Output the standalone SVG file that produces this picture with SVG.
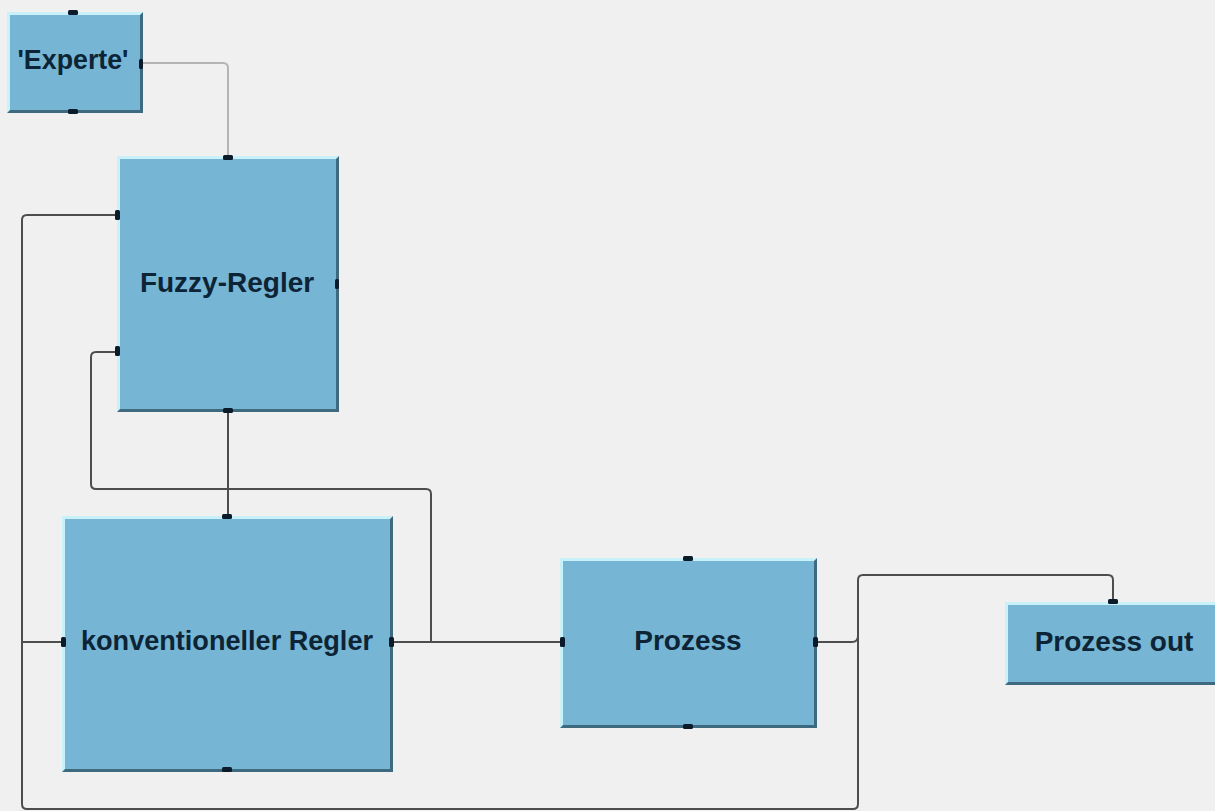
<svg xmlns="http://www.w3.org/2000/svg" width="1215" height="811" viewBox="0 0 1215 811">
  <style>
    .hi { fill: #c8f1fa; }
    .sh { fill: #3d6a7f; }
    .body { fill: #76b5d3; }
    .port { fill: #0c1b29; }
    .lbl { font-family: "Liberation Sans", Arial, sans-serif; font-weight: bold; font-size: 28px; fill: #0c2436; text-anchor: middle; }
    .wire { fill: none; stroke: #4d4d4d; stroke-width: 2; }
    .wire-light { fill: none; stroke: #b4b4b4; stroke-width: 2; }
  </style>
  <rect width="1215" height="811" fill="#f0f0f0"/>

  <!-- connectors -->
  <g id="connectors">
    <path class="wire-light" d="M143,63 H223 Q228,63 228,68 V156"/>
    <path class="wire" d="M228,412 V516"/>
    <path class="wire" d="M393,642 H560"/>
    <path class="wire" d="M431,642 V494 Q431,489 426,489 H96 Q91,489 91,484 V357 Q91,352 96,352 H117"/>
    <path class="wire" d="M1113,602 V580 Q1113,575 1108,575 H863 Q858,575 858,580 V804 Q858,809 853,809 H27 Q22,809 22,804 V220 Q22,215 27,215 H117"/>
    <path class="wire" d="M817,642 H852 Q858,642 858,636"/>
    <path class="wire" d="M22,642 H62"/>
  </g>

  <!-- 'Experte' -->
  <g id="experte">
    <rect class="hi" x="7" y="12" width="136" height="101"/>
    <polygon class="sh" points="7,113 143,113 143,12 140,15 140,110 10,110"/>
    <rect class="body" x="10" y="15" width="130" height="95"/>
    <rect class="port" x="68" y="10" width="10" height="5" rx="1.5"/>
    <rect class="port" x="68" y="109" width="10" height="5" rx="1.5"/>
    <rect class="port" x="139" y="59" width="4" height="10" rx="1.5"/>
    <text class="lbl" x="73" y="69" font-size="27" textLength="111" lengthAdjust="spacingAndGlyphs">'Experte'</text>
  </g>

  <!-- Fuzzy-Regler -->
  <g id="fuzzy-regler">
    <rect class="hi" x="117" y="156" width="222" height="256"/>
    <polygon class="sh" points="117,412 339,412 339,156 336,159 336,409 120,409"/>
    <rect class="body" x="120" y="159" width="216" height="250"/>
    <rect class="port" x="223" y="155" width="10" height="5" rx="1.5"/>
    <rect class="port" x="223" y="408" width="10" height="5" rx="1.5"/>
    <rect class="port" x="115" y="210" width="5" height="10" rx="1.5"/>
    <rect class="port" x="115" y="346" width="5" height="10" rx="1.5"/>
    <rect class="port" x="335" y="279" width="4" height="10" rx="1.5"/>
    <text class="lbl" x="227" y="292">Fuzzy-Regler</text>
  </g>

  <!-- konventioneller Regler -->
  <g id="konventioneller-regler">
    <rect class="hi" x="62" y="516" width="331" height="256"/>
    <polygon class="sh" points="62,772 393,772 393,516 390,519 390,769 65,769"/>
    <rect class="body" x="65" y="519" width="325" height="250"/>
    <rect class="port" x="222" y="514" width="10" height="5" rx="1.5"/>
    <rect class="port" x="222" y="767" width="10" height="5" rx="1.5"/>
    <rect class="port" x="61" y="637" width="5" height="10" rx="1.5"/>
    <rect class="port" x="389" y="637" width="5" height="10" rx="1.5"/>
    <text class="lbl" x="227" y="650" font-size="27" textLength="292" lengthAdjust="spacingAndGlyphs">konventioneller Regler</text>
  </g>

  <!-- Prozess -->
  <g id="prozess">
    <rect class="hi" x="560" y="558" width="257" height="170"/>
    <polygon class="sh" points="560,728 817,728 817,558 814,561 814,725 563,725"/>
    <rect class="body" x="563" y="561" width="251" height="164"/>
    <rect class="port" x="683" y="556" width="10" height="5" rx="1.5"/>
    <rect class="port" x="683" y="724" width="10" height="5" rx="1.5"/>
    <rect class="port" x="560" y="637" width="5" height="10" rx="1.5"/>
    <rect class="port" x="813" y="637" width="5" height="10" rx="1.5"/>
    <text class="lbl" x="688" y="650">Prozess</text>
  </g>

  <!-- Prozess out -->
  <g id="prozess-out">
    <rect class="hi" x="1005" y="602" width="215" height="83"/>
    <polygon class="sh" points="1005,685 1220,685 1220,682 1008,682"/>
    <rect class="body" x="1008" y="605" width="212" height="77"/>
    <rect class="port" x="1108" y="599" width="10" height="5" rx="1.5"/>
    <text class="lbl" x="1114" y="651">Prozess out</text>
  </g>
</svg>
